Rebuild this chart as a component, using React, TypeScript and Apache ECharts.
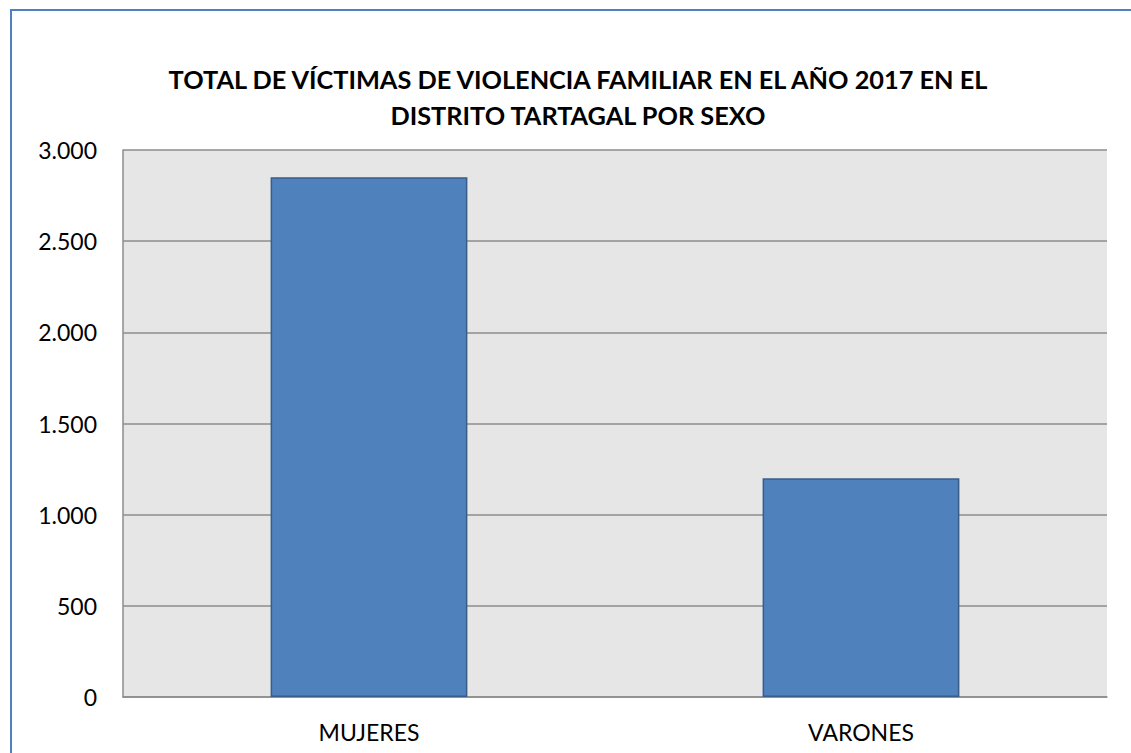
import React, { useEffect, useRef } from "react";
import * as echarts from "echarts";

const categories = ["MUJERES", "VARONES"];
const victimas = [2850, 1200];
const titleText = "TOTAL DE VÍCTIMAS DE VIOLENCIA FAMILIAR EN EL AÑO 2017 EN EL\nDISTRITO TARTAGAL POR SEXO";

export default function App() {
  const ref = useRef<HTMLDivElement>(null);
  useEffect(() => {
    document.body.style.margin = "0";
    const chart = echarts.init(ref.current!, null, { renderer: "svg" });
    chart.setOption({
      animation: false,
      backgroundColor: "#ffffff",
      title: {
        text: titleText,
        left: 573,
        textAlign: "center",
        top: 56,
        textStyle: {
          fontFamily: "Lato",
          fontWeight: "bold",
          fontSize: 25.3,
          lineHeight: 36,
          color: "#000000",
        },
      },
      graphic: [
        {
          type: "rect",
          shape: { x: 11, y: 10, width: 1200, height: 800 },
          style: { fill: "none", stroke: "#4f81bd", lineWidth: 2 },
          silent: true,
        },
      ],
      grid: {
        left: 123,
        top: 150,
        right: 24,
        bottom: 56,
        show: true,
        backgroundColor: "#e6e6e6",
        borderWidth: 0,
      },
      xAxis: {
        type: "category",
        data: categories,
        axisLine: { show: true, lineStyle: { color: "#8c8c8c", width: 1.5 } },
        axisTick: { show: false },
        axisLabel: {
          fontFamily: "Lato",
          fontSize: 23,
          color: "#000000",
          margin: 23,
        },
      },
      yAxis: {
        type: "value",
        min: 0,
        max: 3000,
        interval: 500,
        axisLine: { show: true, lineStyle: { color: "#8c8c8c", width: 1.5 } },
        axisTick: { show: false },
        splitLine: { show: true, lineStyle: { color: "#8c8c8c", width: 1.5 } },
        axisLabel: {
          fontFamily: "Lato",
          fontSize: 23,
          color: "#000000",
          margin: 26,
          formatter: (v: number) => v.toLocaleString("de-DE"),
        },
      },
      series: [
        {
          type: "bar",
          data: victimas,
          barWidth: "40%",
          itemStyle: { color: "#4f81bd", borderColor: "#385d8a", borderWidth: 1.5 },
        },
      ],
    });
    return () => chart.dispose();
  }, []);
  return <div ref={ref} style={{ width: 1131, height: 753 }} />;
}
